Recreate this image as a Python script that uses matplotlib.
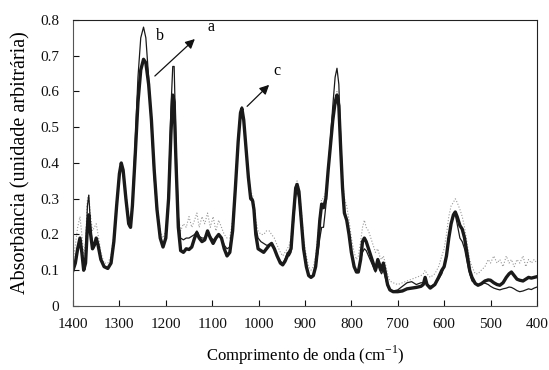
import matplotlib
matplotlib.use('Agg')
import matplotlib.pyplot as plt
import numpy as np

plt.rcParams['font.family'] = ['Liberation Serif', 'DejaVu Serif']
plt.rcParams['mathtext.fontset'] = 'custom'
plt.rcParams['mathtext.rm'] = 'Liberation Serif'

# shared wavenumber grid (cm-1)
wavenumber = [1400, 1395, 1390, 1385, 1381, 1377, 1373, 1369, 1366, 1362, 1358, 1354, 1350, 1346,
              1340, 1333, 1325, 1318, 1312, 1306, 1300, 1296, 1292, 1286, 1280, 1276, 1272, 1266,
              1260, 1254, 1248, 1243, 1237, 1231, 1225, 1219, 1212, 1206, 1200, 1194, 1189, 1185,
              1182, 1178, 1173, 1168, 1162, 1156, 1150, 1144, 1138, 1133, 1128, 1122, 1116, 1110,
              1104, 1098, 1092, 1086, 1080, 1074, 1068, 1062, 1056, 1050, 1044, 1039, 1036, 1032,
              1027, 1022, 1017, 1013, 1010, 1006, 1001, 995, 989, 983, 977, 972, 966, 960, 953,
              948, 943, 938, 934, 930, 925, 920, 917, 913, 908, 903, 897, 892, 887, 882, 877, 872,
              868, 864, 860, 855, 850, 845, 840, 835, 831, 827, 823, 819, 815, 810, 805, 800, 794,
              789, 785, 780, 776, 772, 768, 763, 758, 753, 748, 743, 739, 735, 731, 727, 722, 717,
              710, 700, 690, 680, 670, 660, 650, 645, 641, 637, 630, 620, 612, 605, 600, 595, 590,
              585, 580, 576, 572, 566, 561, 556, 550, 545, 540, 533, 527, 520, 512, 505, 500, 493,
              486, 480, 473, 466, 460, 455, 449, 443, 437, 430, 424, 418, 412, 406, 400]

# spectrum a (thick line)
abs_a = [0.10, 0.12, 0.16, 0.19, 0.15, 0.10, 0.12, 0.22, 0.255, 0.20, 0.16, 0.17, 0.19, 0.17,
         0.13, 0.11, 0.105, 0.12, 0.18, 0.28, 0.37, 0.40, 0.38, 0.30, 0.23, 0.22, 0.28, 0.42,
         0.57, 0.66, 0.69, 0.68, 0.62, 0.52, 0.38, 0.27, 0.19, 0.165, 0.19, 0.30, 0.48, 0.59,
         0.57, 0.40, 0.22, 0.155, 0.15, 0.16, 0.158, 0.165, 0.19, 0.205, 0.19, 0.18, 0.185, 0.21,
         0.19, 0.175, 0.19, 0.20, 0.19, 0.16, 0.14, 0.15, 0.21, 0.33, 0.46, 0.54, 0.553, 0.52,
         0.44, 0.36, 0.30, 0.295, 0.27, 0.20, 0.16, 0.155, 0.15, 0.16, 0.17, 0.175, 0.16, 0.14, 0.12,
         0.115, 0.125, 0.14, 0.15, 0.16, 0.25, 0.33, 0.34, 0.32, 0.24, 0.16, 0.11, 0.085, 0.08, 0.085, 0.11, 0.17,
         0.24, 0.285, 0.275, 0.30, 0.38, 0.45, 0.52, 0.57, 0.59, 0.56, 0.44, 0.33, 0.26, 0.24, 0.20, 0.15, 0.11,
         0.095, 0.095, 0.13, 0.18, 0.19, 0.18, 0.16, 0.14, 0.12, 0.10, 0.13, 0.115, 0.10, 0.12, 0.095, 0.06, 0.045,
         0.04, 0.04, 0.042, 0.048, 0.05, 0.052, 0.055, 0.06, 0.08, 0.06, 0.05, 0.06, 0.08, 0.10, 0.11, 0.14, 0.19,
         0.23, 0.255, 0.263, 0.25, 0.225, 0.215, 0.19, 0.14, 0.10, 0.08, 0.063, 0.058, 0.062, 0.07, 0.073, 0.072, 0.065,
         0.06, 0.058, 0.065, 0.08, 0.09, 0.095, 0.085, 0.075, 0.072, 0.07, 0.075, 0.08, 0.078, 0.08, 0.082]

# spectrum b (thin line)
abs_b = [0.10, 0.12, 0.16, 0.19, 0.15, 0.10, 0.13, 0.28, 0.31, 0.22, 0.17, 0.17, 0.185, 0.17,
         0.13, 0.11, 0.105, 0.12, 0.18, 0.28, 0.37, 0.40, 0.38, 0.30, 0.23, 0.22, 0.29, 0.46,
         0.64, 0.75, 0.78, 0.75, 0.64, 0.50, 0.36, 0.26, 0.19, 0.165, 0.19, 0.32, 0.55, 0.67,
         0.67, 0.45, 0.25, 0.19, 0.185, 0.19, 0.19, 0.195, 0.20, 0.21, 0.195, 0.19, 0.19, 0.205,
         0.195, 0.185, 0.19, 0.20, 0.19, 0.17, 0.16, 0.165, 0.22, 0.34, 0.47, 0.545, 0.557, 0.52,
         0.44, 0.36, 0.31, 0.30, 0.28, 0.22, 0.19, 0.18, 0.175, 0.17, 0.17, 0.17, 0.16, 0.14, 0.125,
         0.12, 0.13, 0.15, 0.14, 0.15, 0.23, 0.31, 0.32, 0.30, 0.23, 0.16, 0.11, 0.085, 0.08, 0.085, 0.11, 0.15,
         0.19, 0.22, 0.22, 0.28, 0.38, 0.47, 0.56, 0.64, 0.665, 0.62, 0.47, 0.34, 0.26, 0.24, 0.20, 0.15, 0.11,
         0.095, 0.10, 0.13, 0.15, 0.16, 0.155, 0.14, 0.125, 0.11, 0.095, 0.115, 0.10, 0.09, 0.10, 0.08, 0.055, 0.045,
         0.042, 0.045, 0.055, 0.065, 0.068, 0.06, 0.065, 0.065, 0.07, 0.06, 0.055, 0.06, 0.075, 0.09, 0.11, 0.14, 0.19,
         0.23, 0.25, 0.255, 0.23, 0.19, 0.18, 0.16, 0.12, 0.09, 0.07, 0.062, 0.06, 0.062, 0.064, 0.06, 0.055, 0.05,
         0.047, 0.045, 0.048, 0.05, 0.053, 0.052, 0.048, 0.043, 0.04, 0.042, 0.045, 0.048, 0.046, 0.05, 0.053]

# spectrum c (dotted)
abs_c = [0.12, 0.17, 0.22, 0.25, 0.20, 0.14, 0.18, 0.30, 0.31, 0.25, 0.21, 0.22, 0.23, 0.20,
         0.15, 0.12, 0.12, 0.14, 0.20, 0.30, 0.38, 0.40, 0.39, 0.32, 0.25, 0.24, 0.30, 0.44,
         0.58, 0.66, 0.69, 0.68, 0.63, 0.54, 0.40, 0.29, 0.21, 0.19, 0.21, 0.31, 0.48, 0.58,
         0.56, 0.41, 0.25, 0.21, 0.23, 0.22, 0.25, 0.22, 0.24, 0.26, 0.22, 0.25, 0.23, 0.26,
         0.22, 0.25, 0.21, 0.24, 0.22, 0.20, 0.19, 0.19, 0.24, 0.35, 0.47, 0.545, 0.555, 0.53,
         0.45, 0.37, 0.32, 0.31, 0.29, 0.24, 0.21, 0.20, 0.20, 0.21, 0.21, 0.20, 0.19, 0.17, 0.15,
         0.14, 0.15, 0.16, 0.17, 0.19, 0.27, 0.34, 0.35, 0.33, 0.27, 0.19, 0.14, 0.11, 0.10, 0.11, 0.14, 0.20,
         0.26, 0.30, 0.30, 0.32, 0.39, 0.46, 0.53, 0.58, 0.60, 0.57, 0.46, 0.36, 0.30, 0.28, 0.24, 0.19, 0.15,
         0.13, 0.14, 0.18, 0.22, 0.24, 0.22, 0.21, 0.19, 0.17, 0.15, 0.16, 0.14, 0.13, 0.14, 0.12, 0.09, 0.07,
         0.065, 0.06, 0.065, 0.07, 0.075, 0.08, 0.085, 0.09, 0.10, 0.09, 0.08, 0.09, 0.11, 0.14, 0.16, 0.20, 0.25,
         0.28, 0.29, 0.30, 0.29, 0.27, 0.25, 0.22, 0.17, 0.13, 0.11, 0.09, 0.09, 0.10, 0.11, 0.13, 0.12, 0.14,
         0.12, 0.13, 0.11, 0.14, 0.12, 0.13, 0.11, 0.13, 0.12, 0.14, 0.11, 0.13, 0.12, 0.13, 0.12]

x_ticks = [1400, 1300, 1200, 1100, 1000, 900, 800, 700, 600, 500, 400]
y_ticks = [0, 0.1, 0.2, 0.3, 0.4, 0.5, 0.6, 0.7, 0.8]
y_labels = ['0', '0.1', '0.2', '0.3', '0.4', '0.5', '0.6', '0.7', '0.8']

fig = plt.figure(figsize=(5.49, 3.70), dpi=100)
ax = fig.add_axes([0.133, 0.173, 0.845, 0.773])

ax.plot(wavenumber, abs_c, color='#999999', linestyle=':', linewidth=0.8)
ax.plot(wavenumber, abs_a, color='#1a1a1a', linewidth=2.4)
ax.plot(wavenumber, abs_b, color='#1a1a1a', linewidth=0.9)

ax.set_xlim(1400, 400)
ax.set_ylim(0, 0.8)
ax.set_xticks(x_ticks)
ax.set_yticks(y_ticks)
ax.set_yticklabels(y_labels)
ax.tick_params(direction='in', length=4, width=0.8, labelsize=11, colors='#111111')
ax.tick_params(axis='x', pad=9)
ax.tick_params(axis='y', pad=10)

for side in ['top', 'right']:
    ax.spines[side].set_color('#222222')
for side in ['left', 'bottom']:
    ax.spines[side].set_color('#555555')

ax.set_xlabel('Comprimento de onda (cm$^{\\mathrm{-1}}$)', fontsize=12, labelpad=9)
ax.set_ylabel('Absorbância (unidade arbitrária)', fontsize=14.5, labelpad=7)

# annotations
ax.annotate('', xy=(1133, 0.752), xytext=(1228, 0.638),
            arrowprops=dict(arrowstyle='-|>', color='#111111', lw=0.9, mutation_scale=14))
ax.text(1111, 0.77, 'a', fontsize=11.5)
ax.text(1222, 0.745, 'b', fontsize=11.5)
ax.annotate('', xy=(973, 0.624), xytext=(1029, 0.553),
            arrowprops=dict(arrowstyle='-|>', color='#111111', lw=0.9, mutation_scale=14))
ax.text(968, 0.645, 'c', fontsize=11.5)

fig.savefig('out.png', dpi=100)
